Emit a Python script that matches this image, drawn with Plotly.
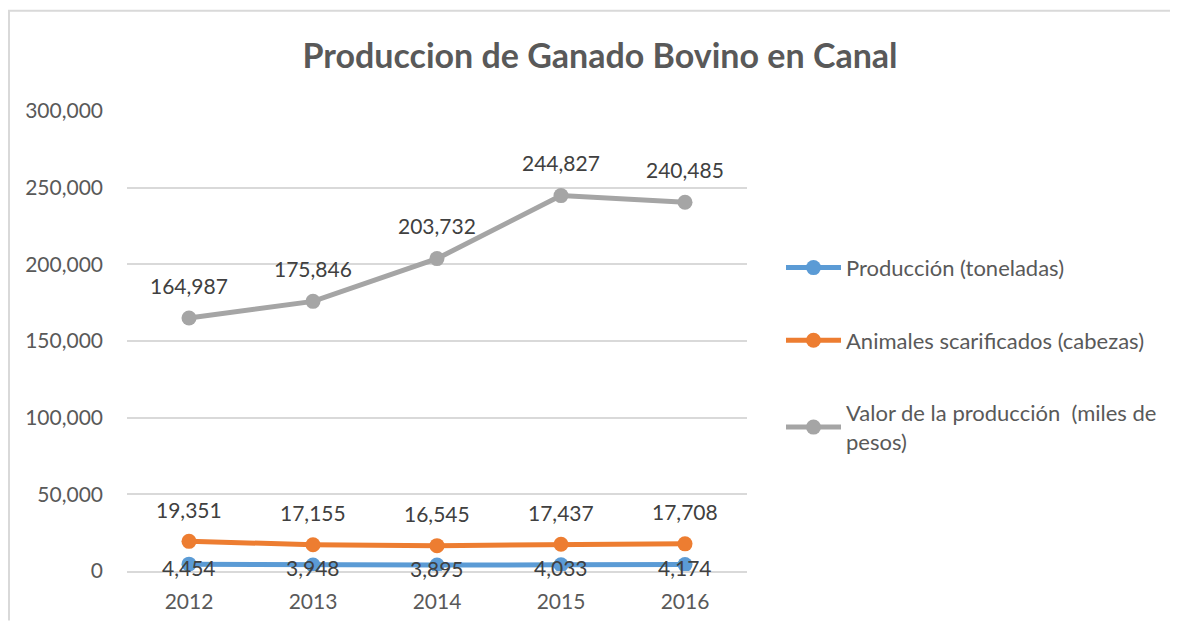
import plotly.graph_objects as go

years = ["2012", "2013", "2014", "2015", "2016"]
produccion = [4454, 3948, 3895, 4033, 4174]
animales = [19351, 17155, 16545, 17437, 17708]
valor = [164987, 175846, 203732, 244827, 240485]

series_names = ["Producción (toneladas)",
                "Animales scarificados (cabezas)",
                "Valor de la producción  (miles de<br>pesos)"]
colors = ["#5B9BD5", "#ED7D31", "#A5A5A5"]
label_shift = [-3, 32, 33]

FONT = "Lato"
TEXT = "#404040"

# the page has an 8px body margin, so the figure is a bit smaller than the window
W, H = 1170, 617
L, T = 119, 103          # plot area starts at page (127, 110)
PW, PH = 620, 464

fig = go.Figure()
annotations = []
for i, (name, vals) in enumerate(zip(series_names, [produccion, animales, valor])):
    fig.add_trace(go.Scatter(x=years, y=vals, mode="lines+markers", name=name,
                             legendgroup=str(i),
                             line=dict(color=colors[i], width=5),
                             marker=dict(color=colors[i], size=15)))
    for j, v in enumerate(vals):
        annotations.append(dict(x=j, y=v, xref="x", yref="y", text=f"{v:,}",
                                showarrow=False, yshift=label_shift[i],
                                font=dict(family=FONT, size=21, color=TEXT)))

fig.update_layout(
    width=W, height=H,
    margin=dict(l=L, r=W - L - PW, t=T, b=H - T - PH, pad=0),
    paper_bgcolor="white", plot_bgcolor="white",
    title=dict(text="<b>Produccion de Ganado Bovino en Canal</b>",
               x=(600 - 8) / W, xanchor="center", y=1 - (56 - 8) / H, yanchor="middle",
               font=dict(family=FONT, size=34, color="#595959")),
    font=dict(family=FONT, color="#595959"),
    annotations=annotations,
    legend=dict(x=(781 - 127) / PW, xanchor="left", y=(PH + T + 8 - 248) / PH, yanchor="top",
                font=dict(family=FONT, size=22, color="#595959"),
                tracegroupgap=41, itemwidth=55, bgcolor="rgba(0,0,0,0)"),
    showlegend=True,
    shapes=[
        dict(type="line", xref="paper", yref="paper",
             x0=-L / PW, x1=(W - L) / PW,
             y0=(PH + T - 2) / PH, y1=(PH + T - 2) / PH,
             line=dict(color="#D9D9D9", width=2)),
        dict(type="line", xref="paper", yref="paper",
             x0=(1 - L) / PW, x1=(1 - L) / PW,
             y0=(PH + T - 2) / PH, y1=-(H - T - PH) / PH,
             line=dict(color="#D9D9D9", width=2)),
    ],
)

fig.update_xaxes(type="category", range=[-0.5, 4.5], showgrid=False,
                 showline=True, linecolor="#D9D9D9", linewidth=1.5,
                 ticks="", ticklabelstandoff=11,
                 tickfont=dict(family=FONT, size=21, color="#595959"))
fig.update_yaxes(range=[0, 300000], dtick=50000, tickformat=",",
                 showgrid=True, gridcolor="#D9D9D9", gridwidth=1.5,
                 zeroline=False, showline=False, ticks="", ticklabelstandoff=23,
                 tickfont=dict(family=FONT, size=21, color="#595959"))

fig.write_html("out.html")
